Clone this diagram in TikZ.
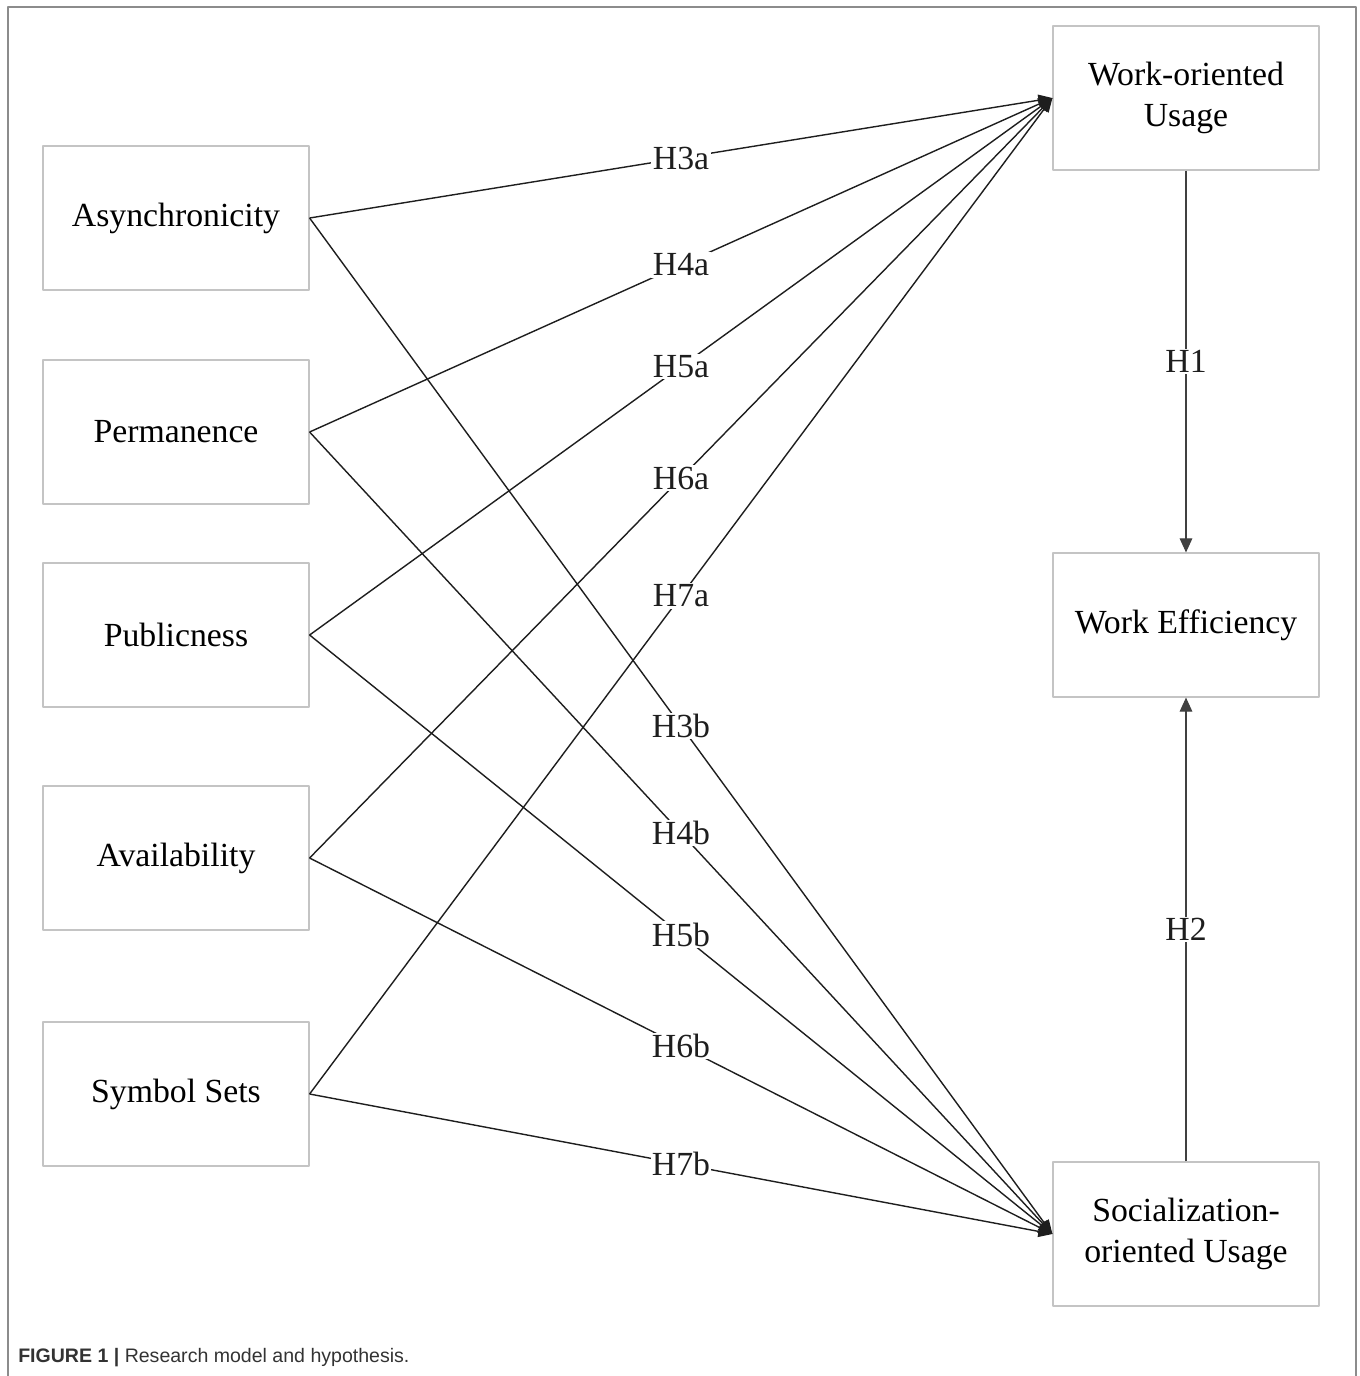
\documentclass[tikz,border=0pt]{standalone}
\usepackage{fontspec}
\setmainfont{Liberation Serif}
\newfontfamily\capfont{Liberation Sans}
\usetikzlibrary{arrows.meta}
\definecolor{frame}{HTML}{8C8C8C}
\definecolor{boxln}{HTML}{C4C4C4}
\definecolor{ink}{HTML}{1E1E1E}
\definecolor{captxt}{HTML}{333333}
\tikzset{fig/.style={line join=round,>={Triangle[length=10pt,width=8pt]}},
 box/.style={draw=boxln,line width=0.8pt,minimum width=6.65cm,minimum height=3.6cm,inner sep=2pt},
 path/.style={ink,line width=1pt,->},
 vpath/.style={ink!85,line width=0.75pt,-{Triangle[length=10pt,width=9pt]}},
 hyp/.style={fill=white,text=ink,inner sep=1pt}}

\begin{document}
\begin{tikzpicture}[fig,x=0.025cm,y=-0.025cm,font=\fontsize{24}{29}\selectfont]
 \useasboundingbox (0,0) rectangle (1360,1376);
 \draw[frame,line width=1.2pt] (8,1376)--(8,7)--(1356,7)--(1356,1376);
 % media features
 \foreach \n/\lab/\y in {asy/Asynchronicity/218, per/Permanence/432, pub/Publicness/635, ava/Availability/858, sym/Symbol Sets/1094}
  \node[box](\n) at (176,\y){\lab};
 % usage and outcome
 \node[box,align=center](wou) at (1186,98){Work-oriented\\Usage};
 \node[box](eff) at (1186,625){Work Efficiency};
 \node[box,align=center](sou) at (1186,1234){Socialization-\\oriented Usage};
 \foreach \n/\k in {asy/3,per/4,pub/5,ava/6,sym/7}{
  \draw[path](\n.east)--node[hyp]{H\k a}(wou.west);
  \draw[path](\n.east)--node[hyp]{H\k b}(sou.west);}
 \draw[vpath](wou.south)--node[hyp]{H1}(eff.north);
 \draw[vpath](sou.north)--node[hyp]{H2}(eff.south);
 \node[anchor=base west,captxt,inner sep=0pt,font=\capfont\fontsize{13.9}{16}\selectfont](cap) at (18,1362){\textbf{FIGURE 1 |} Research model and hypothesis.};
\end{tikzpicture}
\end{document}
